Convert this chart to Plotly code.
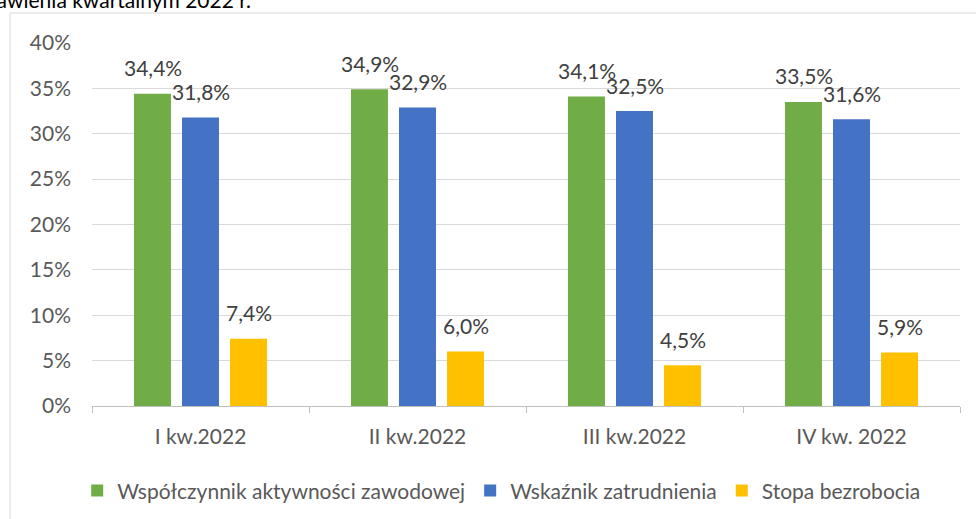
import plotly.graph_objects as go

categories = ["I kw.2022", "II kw.2022", "III kw.2022", "IV kw. 2022"]
aktywnosc = [34.4, 34.9, 34.1, 33.5]
zatrudnienie = [31.8, 32.9, 32.5, 31.6]
bezrobocie = [7.4, 6.0, 4.5, 5.9]
series_names = ["Współczynnik aktywności zawodowej", "Wskaźnik zatrudnienia", "Stopa bezrobocia"]
colors = ["#70AD47", "#4472C4", "#FFC000"]

def fmt(v):
    return f"{v:.1f}%".replace(".", ",")

FONT = "Lato"
FS = 21
fig = go.Figure()
annotations = []
shifts = [-48, 0, 48]
for name, vals, col, sh in zip(series_names, [aktywnosc, zatrudnienie, bezrobocie], colors, shifts):
    fig.add_trace(go.Bar(x=categories, y=vals, name=name, marker_color=col, marker_line_width=0))
    for c, v in zip(categories, vals):
        annotations.append(dict(x=c, y=v, xref="x", yref="y", text=fmt(v), showarrow=False,
                                xshift=sh, yshift=26, yanchor="middle", xanchor="center",
                                font=dict(family=FONT, size=FS, color="#404040")))

annotations.append(dict(text="stawienia kwartalnym 2022 r.", xref="paper", yref="paper",
                        x=(-22 - 92) / 868, y=(406 + 1) / 363, xanchor="left", yanchor="middle",
                        showarrow=False, font=dict(family=FONT, size=FS, color="#000000")))

fig.update_layout(
    width=976, height=519,
    margin=dict(l=92, r=16, t=43, b=113, autoexpand=False),
    paper_bgcolor="white", plot_bgcolor="white",
    barmode="group", bargap=0.336, bargroupgap=0.23,
    font=dict(family=FONT, size=FS, color="#595959"),
    showlegend=True,
    legend=dict(orientation="h", x=0.472, xanchor="center", y=-0.234, yanchor="middle",
                font=dict(family=FONT, size=FS, color="#595959"),
                itemwidth=30, traceorder="normal"),
    yaxis=dict(range=[0, 40], dtick=5, ticksuffix="%", showgrid=True,
               gridcolor="#D9D9D9", gridwidth=1, zeroline=False, showline=False,
               tickfont=dict(family=FONT, size=FS, color="#595959"), ticklabelstandoff=20),
    xaxis=dict(showline=True, linecolor="#BFBFBF", linewidth=1,
               ticks="outside", tickson="boundaries", ticklen=6, tickcolor="#BFBFBF",
               ticklabelstandoff=12,
               tickfont=dict(family=FONT, size=FS, color="#595959")),
    shapes=[dict(type="rect", xref="paper", yref="paper",
                 x0=(10 - 92) / 868, x1=1.03, y0=-0.35, y1=(406 - 13) / 363,
                 line=dict(color="#D9D9D9", width=1), fillcolor="rgba(0,0,0,0)", layer="below")],
    annotations=annotations,
)

fig.write_html("out.html", config={"displayModeBar": False},
               post_script="document.body.style.margin='0px';")
